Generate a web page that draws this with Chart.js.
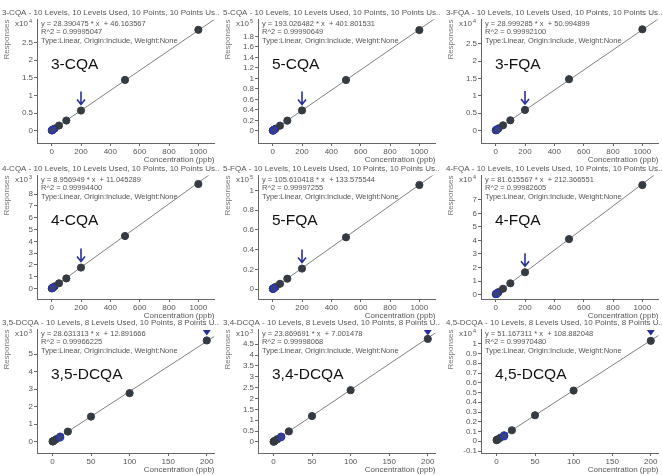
<!DOCTYPE html>
<html>
<head>
<meta charset="utf-8">
<script src="https://cdn.jsdelivr.net/npm/chart.js@4.4.1/dist/chart.umd.min.js"></script>
<style>
  html, body { margin: 0; padding: 0; background: #fff; }
  #wrap { position: relative; width: 662px; height: 475px; overflow: hidden; }
  #wrap canvas { position: absolute; }
</style>
</head>
<body>
<div id="wrap"></div>
<script>
// calibration levels (ppb)
const concHigh = [1, 2, 5, 10, 20, 50, 100, 200, 500, 1000];
const concLow = [0.2, 0.5, 1, 2, 5, 10, 20, 50, 100, 200];

const compounds = ['3-CQA', '5-CQA', '3-FQA', '4-CQA', '5-FQA', '4-FQA', '3,5-DCQA', '3,4-DCQA', '4,5-DCQA'];
const headers = [
  '3-CQA - 10 Levels, 10 Levels Used, 10 Points, 10 Points Us..',
  '5-CQA - 10 Levels, 10 Levels Used, 10 Points, 10 Points Us..',
  '3-FQA - 10 Levels, 10 Levels Used, 10 Points, 10 Points Us..',
  '4-CQA - 10 Levels, 10 Levels Used, 10 Points, 10 Points Us..',
  '5-FQA - 10 Levels, 10 Levels Used, 10 Points, 10 Points Us..',
  '4-FQA - 10 Levels, 10 Levels Used, 10 Points, 10 Points Us..',
  '3,5-DCQA - 10 Levels, 8 Levels Used, 10 Points, 8 Points U..',
  '3,4-DCQA - 10 Levels, 8 Levels Used, 10 Points, 8 Points U..',
  '4,5-DCQA - 10 Levels, 8 Levels Used, 10 Points, 8 Points U..'
];

// responses
const resp3CQA = [75, 105, 190, 335, 610, 1450, 2870, 5700, 14400, 28600];
const resp5CQA = [600, 790, 1370, 2330, 4260, 10000, 19600, 39000, 97000, 192000];
const resp3FQA = [80, 110, 196, 340, 630, 1500, 2950, 5950, 14800, 29200];
const resp4CQA = [20, 29, 56, 100, 190, 450, 860, 1780, 4450, 8850];
const resp5FQA = [240, 345, 660, 1190, 2250, 5400, 10600, 20800, 52500, 105500];
const resp4FQA = [290, 375, 620, 1030, 1840, 4300, 8300, 16500, 41000, 81000];
const resp35DCQA = [19, 27, 42, 70, 156, 300, 585, 1440, 2780, 5790];
const resp34DCQA = [12, 19, 31, 55, 126, 245, 485, 1190, 2380, 4740];
const resp45DCQA = [120, 135, 160, 210, 365, 620, 1130, 2670, 5200, 10300];
const responses = [resp3CQA, resp5CQA, resp3FQA, resp4CQA, resp5FQA, resp4FQA, resp35DCQA, resp34DCQA, resp45DCQA];

// fit equations printed on each plot
const slopes = [28.390475, 193.026482, 28.999285, 8.956949, 105.610418, 81.615567, 28.631313, 23.869691, 51.167311];
const intercepts = [46.163567, 401.801531, 50.994899, 11.045289, 133.575544, 212.366551, 12.891666, 7.001478, 108.882048];
const rSquared = [0.99995047, 0.99990649, 0.99992100, 0.99994400, 0.99997255, 0.99982605, 0.99966225, 0.99998068, 0.99970480];

// highlighted (blue) sample point
const markX = [5, 5, 5, 5, 5, 5, 10, 10, 10];
const markY = [190, 1370, 196, 56, 660, 620, 250, 220, 520];

// axis exponents and tick labels (in units of 10^exp)
const exponents = [4, 5, 4, 3, 5, 4, 3, 3, 4];
const yTickLabels = [
  [0, 0.5, 1, 1.5, 2, 2.5],
  [0, 0.2, 0.4, 0.6, 0.8, 1, 1.2, 1.4, 1.6, 1.8],
  [0, 0.5, 1, 1.5, 2, 2.5],
  [0, 1, 2, 3, 4, 5, 6, 7, 8],
  [0, 0.2, 0.4, 0.6, 0.8, 1],
  [0, 1, 2, 3, 4, 5, 6, 7],
  [0, 1, 2, 3, 4, 5],
  [0, 0.5, 1, 1.5, 2, 2.5, 3, 3.5, 4, 4.5],
  [-0.1, 0, 0.1, 0.2, 0.3, 0.4, 0.5, 0.6, 0.7, 0.8, 0.9, 1]
];
const yMins = [-3500, -23000, -3600, -880, -10000, -3300, -640, -510, -1200];
const yMaxs = [31500, 212000, 32000, 9560, 115000, 88000, 6410, 5170, 11450];
const xTicksHigh = [0, 200, 400, 600, 800, 1000];
const xTicksLow = [0, 50, 100, 150, 200];
const arrowConc = 200;   // arrow marks this level in the upper rows
const flagConc = 200;    // blue triangle in the lower row

function hasFont(name) {
  const c = document.createElement('canvas').getContext('2d');
  c.font = '40px monospace';
  const a = c.measureText('Levels Used 1000').width;
  c.font = "40px '" + name + "', monospace";
  return c.measureText('Levels Used 1000').width !== a;
}
const narrow = hasFont('Liberation Sans Narrow');
const FAM = narrow ? "'Liberation Sans Narrow', 'Liberation Sans', Arial" : "'Liberation Sans', Arial";
const SMALL = narrow ? 9.5 : 8;
const TEXT = '#555';
const AXIS = '#666';
const DOT = '#353b42';
const BLUE = '#27309a';

Chart.defaults.font.family = FAM;
Chart.defaults.font.size = SMALL;

const W = 220, H = 165;
const colLeft = [0, 221, 444];
const rowTop = [0, 156, 310];

function decor(i, lowRow) {
  return {
    id: 'decor' + i,
    afterDatasetsDraw(chart) {
      const {ctx, chartArea: a, scales: {x, y}} = chart;
      ctx.save();
      // compound label
      ctx.fillStyle = '#111';
      ctx.font = "15.5px 'Liberation Sans', Arial";
      ctx.textBaseline = 'alphabetic';
      ctx.textAlign = 'left';
      ctx.fillText(compounds[i], a.left + 14, a.top + 49);
      // equation block
      ctx.fillStyle = TEXT;
      ctx.font = (SMALL - 0.5) + 'px ' + FAM;
      const lines = [
        'y = ' + slopes[i].toFixed(6) + ' * x  + ' + intercepts[i].toFixed(6),
        'R^2 = ' + rSquared[i].toFixed(8),
        'Type:Linear, Origin:Include, Weight:None'
      ];
      lines.forEach((t, k) => ctx.fillText(t, a.left + 4, a.top + 6 + k * 8.6));
      // multiplier
      ctx.textAlign = 'right';
      ctx.font = '5.5px ' + FAM;
      ctx.fillText(String(exponents[i]), a.left - 5, a.top + 3);
      const sw = ctx.measureText(String(exponents[i])).width;
      ctx.font = SMALL + 'px ' + FAM;
      ctx.fillText('x10', a.left - 6 - sw, a.top + 6);
      ctx.strokeStyle = BLUE;
      ctx.fillStyle = BLUE;
      if (!lowRow) {
        const idx = concHigh.indexOf(arrowConc);
        const px = x.getPixelForValue(arrowConc);
        const py = y.getPixelForValue(responses[i][idx]);
        ctx.lineWidth = 1.6;
        ctx.beginPath();
        ctx.moveTo(px, py - 19);
        ctx.lineTo(px, py - 6);
        ctx.moveTo(px - 4, py - 11);
        ctx.lineTo(px, py - 6);
        ctx.lineTo(px + 4, py - 11);
        ctx.stroke();
      } else {
        const px = x.getPixelForValue(flagConc);
        ctx.beginPath();
        ctx.moveTo(px - 4, a.top + 0.5);
        ctx.lineTo(px + 4, a.top + 0.5);
        ctx.lineTo(px, a.top + 6);
        ctx.closePath();
        ctx.fill();
      }
      ctx.restore();
    }
  };
}

const wrap = document.getElementById('wrap');
compounds.forEach((name, i) => {
  const row = Math.floor(i / 3), col = i % 3;
  const lowRow = row === 2;
  const conc = lowRow ? concLow : concHigh;
  const xMin = lowRow ? -20 : -100;
  const xMax = lowRow ? 210 : 1110;
  const xTicks = lowRow ? xTicksLow : xTicksHigh;
  const mult = Math.pow(10, exponents[i]);

  const canvas = document.createElement('canvas');
  canvas.width = W; canvas.height = H;
  canvas.style.left = colLeft[col] + 'px';
  canvas.style.top = rowTop[row] + 'px';
  wrap.appendChild(canvas);

  const points = conc.map((c, k) => ({x: c, y: responses[i][k]}));
  const fit = [0, xMax].map(c => ({x: c, y: slopes[i] * c + intercepts[i]}));

  new Chart(canvas, {
    type: 'scatter',
    data: {
      datasets: [
        {type: 'line', data: fit, borderColor: '#808080', borderWidth: 1, pointRadius: 0, order: 3},
        {data: points, backgroundColor: DOT, borderColor: DOT, pointRadius: 3.6, order: 2},
        {data: [{x: markX[i], y: markY[i]}], backgroundColor: 'rgba(60,80,220,0.35)', borderColor: '#2b35c0',
          borderWidth: 1.5, pointRadius: 3.4, order: 1}
      ]
    },
    options: {
      responsive: false,
      animation: false,
      events: [],
      layout: {padding: {left: 2, right: 0, top: 0, bottom: 0}},
      plugins: {
        legend: {display: false},
        tooltip: {enabled: false},
        title: {
          display: true, text: headers[i], align: 'start', color: TEXT,
          font: {size: SMALL, weight: 'normal'}, padding: {top: 8, bottom: 2}
        }
      },
      scales: {
        x: {
          type: 'linear', min: xMin, max: xMax,
          afterBuildTicks: s => { s.ticks = xTicks.map(v => ({value: v})); },
          afterFit: s => { s.height = 22; },
          grid: {drawOnChartArea: false, tickLength: 3, color: AXIS},
          border: {color: AXIS},
          ticks: {color: TEXT, padding: 1, maxRotation: 0, autoSkip: false, callback: v => String(v)},
          title: {display: true, text: 'Concentration (ppb)', align: 'end', color: TEXT, padding: 0}
        },
        y: {
          type: 'linear', min: yMins[i], max: yMaxs[i],
          afterBuildTicks: s => { s.ticks = yTickLabels[i].map(v => ({value: v * mult})); },
          afterFit: s => { s.width = 35; },
          grid: {drawOnChartArea: false, tickLength: 3, color: AXIS},
          border: {color: AXIS},
          ticks: {color: TEXT, padding: 1, autoSkip: false,
            callback: v => String(Math.round(v / mult * 100) / 100)},
          title: {display: true, text: 'Responses', align: 'end', color: '#777', padding: 0}
        }
      }
    },
    plugins: [decor(i, lowRow)]
  });
});
</script>
</body>
</html>
